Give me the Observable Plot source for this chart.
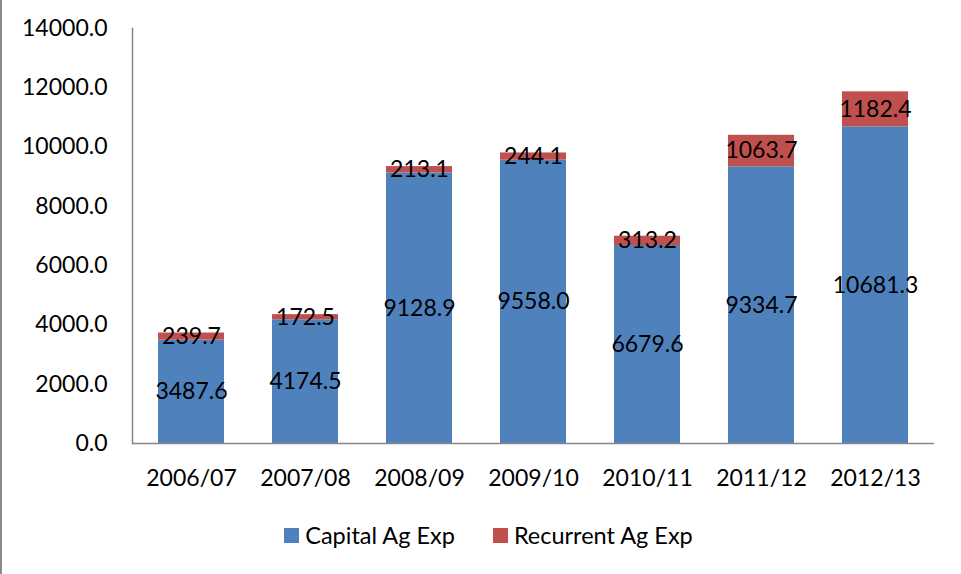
<!DOCTYPE html>
<html>
<head>
<meta charset="utf-8">
<script src="https://cdn.jsdelivr.net/npm/d3@7"></script>
<script src="https://cdn.jsdelivr.net/npm/@observablehq/plot@0.6"></script>
<style>
  html, body { margin: 0; padding: 0; background: #fff; }
  #wrap { position: relative; width: 961px; height: 574px; overflow: hidden; font-family: Lato, "Open Sans", sans-serif; border-left: 2px solid #8a8a8a; box-sizing: border-box; }
  #legend { display: flex; justify-content: center; align-items: center; height: 70px; padding-left: 14px; font-size: 23.5px; color: #000; }
  .item { display: flex; align-items: center; margin: 0 19px; }
  .sw { width: 15px; height: 15px; margin-right: 6px; }
</style>
</head>
<body>
<div id="wrap"></div>
<script>
const years = ["2006/07","2007/08","2008/09","2009/10","2010/11","2011/12","2012/13"];
const capital = [3487.6, 4174.5, 9128.9, 9558.0, 6679.6, 9334.7, 10681.3];
const recurrent = [239.7, 172.5, 213.1, 244.1, 313.2, 1063.7, 1182.4];
const seriesNames = ["Capital Ag Exp", "Recurrent Ag Exp"];
const seriesColors = ["#4F81BD", "#C0504D"];
const yTicks = [0, 2000, 4000, 6000, 8000, 10000, 12000, 14000];

const rows = [
  ...years.map((y, i) => ({year: y, series: seriesNames[0], value: capital[i]})),
  ...years.map((y, i) => ({year: y, series: seriesNames[1], value: recurrent[i]}))
];

const chart = Plot.plot({
  width: 959,
  height: 500,
  marginTop: 28,
  marginBottom: 57,
  marginLeft: 130,
  marginRight: 27,
  style: {fontFamily: "Lato, 'Open Sans', sans-serif", fontSize: "23px", color: "#000", background: "#fff"},
  x: {domain: years, paddingInner: 0.42, paddingOuter: 0.21, label: null},
  y: {domain: [0, 14000], label: null},
  color: {domain: seriesNames, range: seriesColors},
  marks: [
    Plot.barY(rows, {x: "year", y: "value", fill: "series", z: "series", order: seriesNames}),
    Plot.text(rows, Plot.stackY({x: "year", y: "value", z: "series", order: seriesNames, text: d => d.value.toFixed(1), fill: "#000", fontSize: 23})),
    Plot.axisY({ticks: yTicks, tickFormat: d => d.toFixed(1), tickSize: 0, tickPadding: 25, fontSize: 23}),
    Plot.axisX({tickSize: 0, tickPadding: 26, fontSize: 23}),
    Plot.frame({anchor: "left", stroke: "#868686", strokeWidth: 1.5}),
    Plot.ruleY([0], {stroke: "#868686", strokeWidth: 1.5})
  ]
});

const wrap = document.getElementById("wrap");
wrap.appendChild(chart);
const legend = document.createElement("div");
legend.id = "legend";
seriesNames.forEach((name, i) => {
  const item = document.createElement("div");
  item.className = "item";
  const sw = document.createElement("div");
  sw.className = "sw";
  sw.style.background = seriesColors[i];
  const t = document.createElement("span");
  t.textContent = name;
  item.appendChild(sw);
  item.appendChild(t);
  legend.appendChild(item);
});
wrap.appendChild(legend);
</script>
</body>
</html>
